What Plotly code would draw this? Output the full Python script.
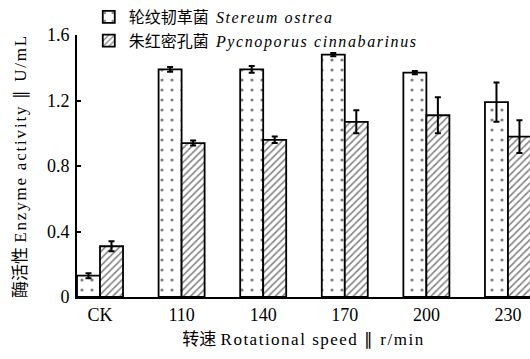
import plotly.graph_objects as go

categories = ["CK", "110", "140", "170", "200", "230"]
stereum = [0.13, 1.39, 1.39, 1.48, 1.37, 1.19]
stereum_err = [0.015, 0.015, 0.02, 0.01, 0.01, 0.12]
pycno = [0.31, 0.94, 0.96, 1.07, 1.11, 0.98]
pycno_err = [0.03, 0.015, 0.02, 0.07, 0.11, 0.10]

SERIF = "Liberation Serif, Noto Sans CJK SC"
CJK = "Noto Sans CJK SC"


def lat(t, size=16, ls=1.5, italic=False):
    s = (f"<span style='font-family:Liberation Serif;font-size:{size}px;"
         f"letter-spacing:{ls}px'>{t}</span>")
    return f"<i>{s}</i>" if italic else s


def cjk(t, size=18):
    return f"<span style='font-family:Noto Sans CJK SC;font-size:{size}px'>{t}</span>"


fig = go.Figure()
fig.add_trace(go.Bar(
    x=categories, y=stereum,
    name=cjk("轮纹韧革菌", 16) + "\u00a0\u00a0" + lat("Stereum ostrea", 16, 1.6, True),
    error_y=dict(type="data", array=stereum_err, color="black", thickness=2, width=3),
    marker=dict(color="white", line=dict(color="black", width=1.8),
                pattern=dict(shape=".", size=10, solidity=0.08, fgcolor="black", bgcolor="white")),
))
fig.add_trace(go.Bar(
    x=categories, y=pycno,
    name=cjk("朱红密孔菌", 16) + "\u00a0\u00a0" + lat("Pycnoporus cinnabarinus", 16, 1.6, True),
    error_y=dict(type="data", array=pycno_err, color="black", thickness=2, width=3),
    marker=dict(color="white", line=dict(color="black", width=1.8),
                pattern=dict(shape="/", size=5, solidity=0.3, fgcolor="black", bgcolor="white")),
))

fig.update_layout(
    width=530, height=359,
    margin=dict(l=77, r=0, t=33, b=62),
    paper_bgcolor="white", plot_bgcolor="white",
    barmode="group", bargap=0.436, bargroupgap=0,
    font=dict(family=SERIF, size=16, color="black"),
    showlegend=True,
    legend=dict(x=0.026, y=1.135, xanchor="left", yanchor="top",
                bgcolor="rgba(0,0,0,0)", font=dict(size=16, family=CJK),
                tracegroupgap=0, itemwidth=30),
    xaxis=dict(range=[-0.282, 5.27], showline=True, linecolor="black", linewidth=2,
               ticks="", tickfont=dict(size=18, family=SERIF), showgrid=False,
               title=dict(text=cjk("转速", 17) + "\u00a0" + lat("Rotational speed ∥ r/min", 17, 1.5),
                          font=dict(size=17, family=SERIF), standoff=8)),
    yaxis=dict(range=[0, 1.6], tickvals=[0, 0.4, 0.8, 1.2, 1.6],
               ticktext=["0", "0.4", "0.8", "1.2", "1.6"],
               showline=True, linecolor="black", linewidth=2, ticks="inside", ticklen=4,
               tickwidth=2, tickcolor="black", showgrid=False, zeroline=False,
               tickfont=dict(size=18, family=SERIF), ticklabelstandoff=2,
               title=dict(text=cjk("酶活性", 17) + "\u00a0" + lat("Enzyme activity ∥ U/mL", 17, 1.8),
                          font=dict(size=17, family=SERIF), standoff=16)),
)

fig.write_html("out.html")
